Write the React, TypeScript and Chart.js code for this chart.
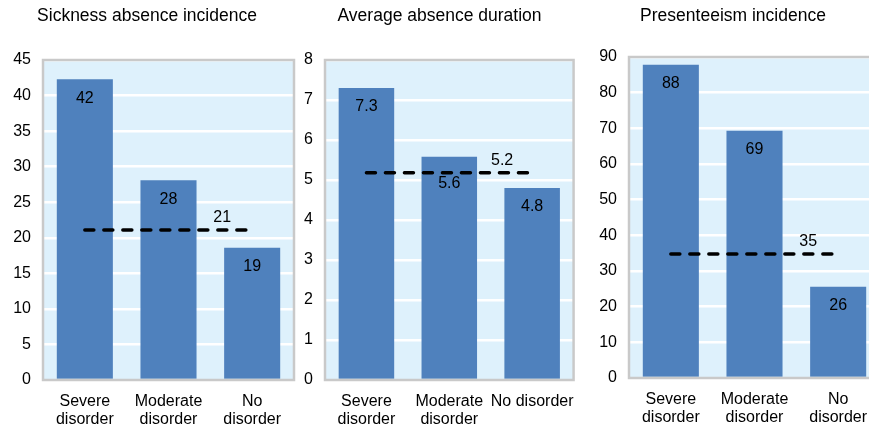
import React, { useEffect, useRef } from "react";
import { Chart, registerables } from "chart.js";

Chart.register(...registerables);

const FONT = '"Liberation Sans", Arial, sans-serif';

// ---- data ----
const categoriesTwoLine: (string | string[])[] = [
  ["Severe", "disorder"],
  ["Moderate", "disorder"],
  ["No", "disorder"],
];
const categoriesDuration: (string | string[])[] = [
  ["Severe", "disorder"],
  ["Moderate", "disorder"],
  "No disorder",
];

const sicknessTitle = "Sickness absence incidence";
const sicknessValues = [42.3, 28.1, 18.6];
const sicknessAverage = 21.1;
const sicknessMax = 45;
const sicknessStep = 5;

const durationTitle = "Average absence duration";
const durationValues = [7.3, 5.58, 4.8];
const durationAverage = 5.18;
const durationMax = 8;
const durationStep = 1;

const presenteeismTitle = "Presenteeism incidence";
const presenteeismValues = [87.8, 69.3, 25.6];
const presenteeismAverage = 34.8;
const presenteeismMax = 90;
const presenteeismStep = 10;

// ---- panel component ----
type PanelProps = {
  title: string;
  categories: (string | string[])[];
  values: number[];
  average: number;
  max: number;
  step: number;
  decimals: number;
  left: number;
  width: number;
  axisWidth: number;
  padRight: number;
  titleBottom: number;
  xAxisHeight: number;
};

const panelPlugin = {
  id: "panelDecor",
  beforeDraw(chart: any) {
    const { ctx, chartArea } = chart;
    ctx.save();
    ctx.fillStyle = "#DEF1FC";
    ctx.fillRect(chartArea.left, chartArea.top, chartArea.right - chartArea.left, chartArea.bottom - chartArea.top);
    ctx.restore();
  },
  afterDatasetsDraw(chart: any) {
    const { ctx, chartArea } = chart;
    const o = chart.options.plugins.panelDecor;
    ctx.save();
    ctx.strokeStyle = "#C9C9C9";
    ctx.lineWidth = 2.5;
    ctx.strokeRect(chartArea.left, chartArea.top, chartArea.right - chartArea.left, chartArea.bottom - chartArea.top);
    ctx.restore();

    const lineMeta = chart.getDatasetMeta(0);
    const lineY = lineMeta.data[0].y;

    // bar value labels (moved below the average line when they would collide)
    const barMeta = chart.getDatasetMeta(1);
    const vals = chart.data.datasets[1].data as number[];
    ctx.save();
    ctx.font = `16px ${FONT}`;
    ctx.fillStyle = "#000";
    ctx.textAlign = "center";
    ctx.textBaseline = "middle";
    barMeta.data.forEach((el: any, i: number) => {
      let y = el.y + 19;
      if (Math.abs(y - lineY) < 10) y = lineY + 11;
      ctx.fillText(vals[i].toFixed(o.decimals), el.x, y);
    });
    // average label
    const last = lineMeta.data[lineMeta.data.length - 1];
    const avg = (chart.data.datasets[0].data as number[])[0];
    ctx.fillText(avg.toFixed(o.decimals), last.x - 30, last.y - 12);
    ctx.restore();
  },
};

function Panel(p: PanelProps) {
  const ref = useRef<HTMLCanvasElement | null>(null);
  useEffect(() => {
    if (!ref.current) return;
    const chart = new Chart(ref.current, {
      type: "bar",
      data: {
        labels: p.categories as any,
        datasets: [
          {
            type: "line",
            data: p.categories.map(() => p.average),
            borderColor: "#000",
            borderWidth: 3.5,
            borderDash: [9, 10],
            borderCapStyle: "round",
            pointRadius: 0,
            fill: false,
            order: 0,
          } as any,
          {
            type: "bar",
            data: p.values,
            backgroundColor: "#4F81BD",
            borderWidth: 0,
            barPercentage: 0.67,
            categoryPercentage: 1,
            order: 1,
          },
        ],
      },
      options: {
        responsive: false,
        animation: false,
        devicePixelRatio: 1,
        layout: { padding: { left: 0, right: p.padRight, top: 0, bottom: 0 } },
        plugins: {
          legend: { display: false },
          tooltip: { enabled: false },
          title: {
            display: true,
            text: p.title,
            color: "#000",
            font: { family: FONT, size: 17.5, weight: "normal" },
            padding: { top: 6, bottom: p.titleBottom },
          },
          panelDecor: { decimals: p.decimals },
        } as any,
        scales: {
          x: {
            grid: { display: false, drawTicks: false },
            border: { display: false },
            ticks: {
              color: "#000",
              font: { family: FONT, size: 16, lineHeight: 1.15 },
              padding: 12,
              maxRotation: 0,
              autoSkip: false,
            },
            afterFit: (s: any) => {
              s.height = p.xAxisHeight;
            },
          },
          y: {
            min: 0,
            max: p.max,
            grid: { color: "#FFFFFF", lineWidth: 2.5, drawTicks: false },
            border: { display: false },
            ticks: {
              stepSize: p.step,
              color: "#000",
              font: { family: FONT, size: 16 },
              padding: 12,
            },
            afterFit: (s: any) => {
              s.width = p.axisWidth;
            },
          },
        },
      },
      plugins: [panelPlugin],
    });
    return () => chart.destroy();
  }, []);
  return (
    <canvas
      ref={ref}
      width={p.width}
      height={430}
      style={{ position: "absolute", left: p.left, top: 0, width: p.width, height: 430 }}
    />
  );
}

export default function App() {
  return (
    <div
      style={{
        position: "absolute",
        left: 0,
        top: 0,
        width: 869,
        height: 430,
        overflow: "hidden",
        background: "#fff",
      }}
    >
      <Panel
        title={sicknessTitle}
        categories={categoriesTwoLine}
        values={sicknessValues}
        average={sicknessAverage}
        max={sicknessMax}
        step={sicknessStep}
        decimals={0}
        left={0}
        width={296}
        axisWidth={43}
        padRight={2}
        titleBottom={33}
        xAxisHeight={50}
      />
      <Panel
        title={durationTitle}
        categories={categoriesDuration}
        values={durationValues}
        average={durationAverage}
        max={durationMax}
        step={durationStep}
        decimals={1}
        left={296}
        width={290}
        axisWidth={29}
        padRight={3}
        titleBottom={33}
        xAxisHeight={50}
      />
      <Panel
        title={presenteeismTitle}
        categories={categoriesTwoLine}
        values={presenteeismValues}
        average={presenteeismAverage}
        max={presenteeismMax}
        step={presenteeismStep}
        decimals={0}
        left={586}
        width={296}
        axisWidth={43}
        padRight={2}
        titleBottom={30}
        xAxisHeight={52}
      />
    </div>
  );
}
